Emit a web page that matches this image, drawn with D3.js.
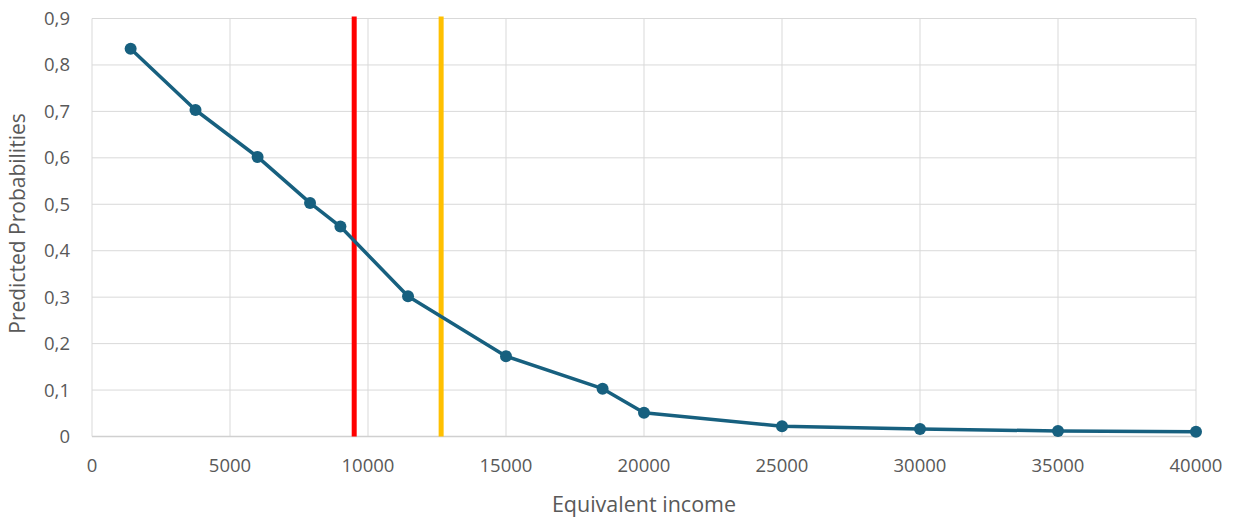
<!DOCTYPE html>
<html>
<head>
<meta charset="utf-8">
<script src="https://cdn.jsdelivr.net/npm/d3@7"></script>
<style>
  html, body { margin: 0; padding: 0; background: #fff; }
  svg { display: block; }
</style>
</head>
<body>
<svg id="chart" width="1241" height="518"></svg>
<script>
const incomes = [1400, 3750, 6000, 7900, 9000, 11450, 15000, 18500, 20000, 25000, 30000, 35000, 40000];
const probabilities = [0.835, 0.703, 0.602, 0.503, 0.452, 0.302, 0.173, 0.103, 0.051, 0.022, 0.016, 0.012, 0.010];
const xTicks = [0, 5000, 10000, 15000, 20000, 25000, 30000, 35000, 40000];
const yTicks = [0, 0.1, 0.2, 0.3, 0.4, 0.5, 0.6, 0.7, 0.8, 0.9];
const thresholdValues = [9500, 12650];
const thresholdColors = ["#FF0000", "#FFC000"];
const xTitle = "Equivalent income";
const yTitle = "Predicted Probabilities";

const svg = d3.select("#chart");
const pLeft = 92, pRight = 1196, pTop = 18.5, pBottom = 436.5;
const x = d3.scaleLinear().domain([0, 40000]).range([pLeft, pRight]);
const y = d3.scaleLinear().domain([0, 0.9]).range([pBottom, pTop]);
const font = "'Open Sans', 'Liberation Sans', sans-serif";
const textColor = "#595959";
const gridColor = "#d9d9d9";

// gridlines
svg.append("g").selectAll("line").data(yTicks).join("line")
  .attr("x1", pLeft).attr("x2", pRight)
  .attr("y1", d => y(d)).attr("y2", d => y(d))
  .attr("stroke", gridColor).attr("stroke-width", 1);
svg.append("g").selectAll("line").data(xTicks).join("line")
  .attr("x1", d => x(d)).attr("x2", d => x(d))
  .attr("y1", pTop).attr("y2", pBottom)
  .attr("stroke", gridColor).attr("stroke-width", 1);
// bottom axis line
svg.append("line").attr("x1", pLeft).attr("x2", pRight).attr("y1", pBottom).attr("y2", pBottom)
  .attr("stroke", "#d0d0d0").attr("stroke-width", 1.3);

// tick labels
const fmt = d3.format(".1f");
svg.append("g").selectAll("text").data(yTicks).join("text")
  .attr("x", 70).attr("y", d => y(d)).attr("dy", "0.35em")
  .attr("text-anchor", "end")
  .attr("font-family", font).attr("font-size", 18.5).attr("fill", textColor)
  .text(d => d === 0 ? "0" : fmt(d).replace(".", ","));
svg.append("g").selectAll("text").data(xTicks).join("text")
  .attr("x", d => x(d)).attr("y", 466).attr("dy", "0.35em")
  .attr("text-anchor", "middle")
  .attr("font-family", font).attr("font-size", 18.5).attr("fill", textColor)
  .text(d => String(d));

// axis titles
svg.append("text").attr("x", (pLeft + pRight) / 2).attr("y", 504).attr("dy", "0.35em")
  .attr("text-anchor", "middle").attr("font-family", font).attr("font-size", 21.5)
  .attr("fill", textColor).text(xTitle);
svg.append("text").attr("transform", `translate(18,${(pTop + pBottom) / 2 - 4}) rotate(-90)`)
  .attr("dy", "0.35em")
  .attr("text-anchor", "middle").attr("font-family", font).attr("font-size", 21)
  .attr("fill", textColor).text(yTitle);

// threshold lines
svg.append("g").selectAll("line").data(thresholdValues).join("line")
  .attr("x1", d => x(d)).attr("x2", d => x(d))
  .attr("y1", pTop - 2).attr("y2", pBottom)
  .attr("stroke", (d, i) => thresholdColors[i]).attr("stroke-width", 5);

// series
const data = incomes.map((v, i) => [v, probabilities[i]]);
const lineColor = "#17607F";
svg.append("path").datum(data)
  .attr("fill", "none").attr("stroke", lineColor).attr("stroke-width", 3.5)
  .attr("stroke-linejoin", "round")
  .attr("d", d3.line().x(d => x(d[0])).y(d => y(d[1])));
svg.append("g").selectAll("circle").data(data).join("circle")
  .attr("cx", d => x(d[0])).attr("cy", d => y(d[1])).attr("r", 6)
  .attr("fill", lineColor);
</script>
</body>
</html>
